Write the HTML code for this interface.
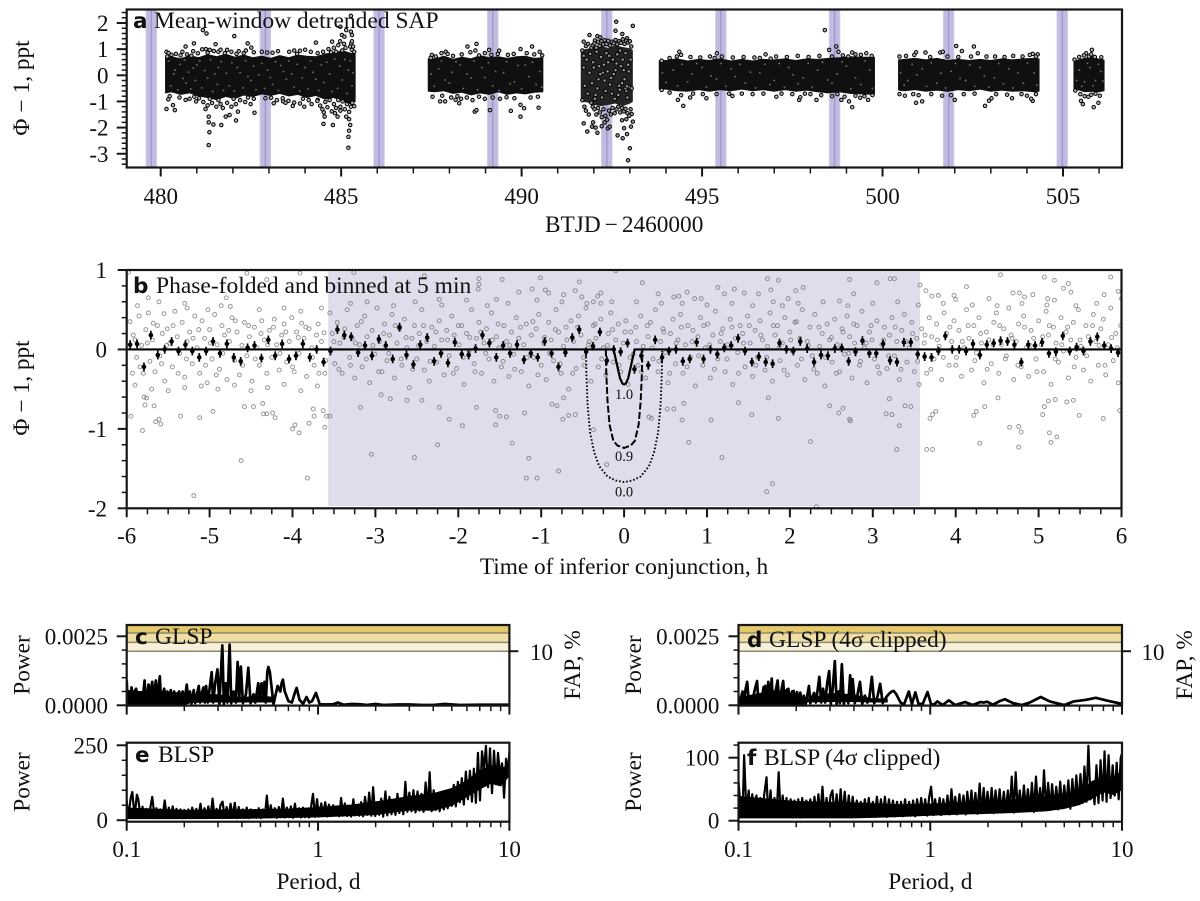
<!DOCTYPE html>
<html lang="en">
<head>
<meta charset="utf-8">
<title>Phase-folded photometry and periodograms</title>
<style>
html,body{margin:0;padding:0;background:#fff;}
svg{display:block;font-family:"Liberation Serif",serif;}
.tick-label{font-size:23px;fill:#111;}
.title{font-size:23.5px;fill:#111;}
.letter{font-family:"DejaVu Sans",sans-serif;font-weight:bold;font-size:21.5px;fill:#111;}
.axis-title{font-size:23.3px;fill:#111;}
</style>
</head>
<body>
<svg id="chart" width="1200" height="901" viewBox="0 0 1200 901">
  <defs>
    <clipPath id="clip-a"><rect x="126.7" y="9.5" width="995.3" height="158"/></clipPath>
    <clipPath id="clip-b"><rect x="126.7" y="270" width="994.8" height="238.3"/></clipPath>
    <clipPath id="clip-c"><rect x="126.7" y="625" width="382.7" height="80.6"/></clipPath>
    <clipPath id="clip-d"><rect x="738.5" y="625" width="383.5" height="80.6"/></clipPath>
    <clipPath id="clip-e"><rect x="126.7" y="742.7" width="382.7" height="79"/></clipPath>
    <clipPath id="clip-f"><rect x="738.5" y="742.7" width="383.5" height="79"/></clipPath>
  </defs>
  <g id="panel-a"></g>
  <g id="panel-b"></g>
  <g id="panel-c"></g>
  <g id="panel-d"></g>
  <g id="panel-e"></g>
  <g id="panel-f"></g>

  <g>
    <text class="letter" x="133" y="28">a</text>
    <text class="title" x="154" y="28">Mean-window detrended SAP</text>
    <text class="letter" x="133" y="293">b</text>
    <text class="title" x="156" y="293">Phase-folded and binned at 5 min</text>
    <text class="letter" x="135" y="644">c</text>
    <text class="title" x="155" y="644">GLSP</text>
    <text class="letter" x="747" y="647">d</text>
    <text class="title" x="769" y="647">GLSP (4σ clipped)</text>
    <text class="letter" x="135" y="762">e</text>
    <text class="title" x="158" y="762">BLSP</text>
    <text class="letter" x="747" y="765">f</text>
    <text class="title" x="764" y="765">BLSP (4σ clipped)</text>
  </g>

  <g>
    <text class="axis-title" x="29" y="88" text-anchor="middle" transform="rotate(-90 29 88)">Φ<tspan dx="6">−</tspan><tspan dx="6">1, ppt</tspan></text>
    <text class="axis-title" x="545" y="232">BTJD<tspan dx="4">−</tspan><tspan dx="4">2460000</tspan></text>
    <text class="axis-title" x="29" y="388" text-anchor="middle" transform="rotate(-90 29 388)">Φ<tspan dx="6">−</tspan><tspan dx="6">1, ppt</tspan></text>
    <text class="axis-title" x="624" y="574" text-anchor="middle">Time of inferior conjunction, h</text>
    <text class="axis-title" x="29.5" y="665" text-anchor="middle" transform="rotate(-90 29.5 665)">Power</text>
    <text class="axis-title" x="580" y="665" text-anchor="middle" transform="rotate(-90 580 665)">FAP, %</text>
    <text class="axis-title" x="641" y="665" text-anchor="middle" transform="rotate(-90 641 665)">Power</text>
    <text class="axis-title" x="1192" y="665" text-anchor="middle" transform="rotate(-90 1192 665)">FAP, %</text>
    <text class="axis-title" x="29.5" y="782" text-anchor="middle" transform="rotate(-90 29.5 782)">Power</text>
    <text class="axis-title" x="641" y="782" text-anchor="middle" transform="rotate(-90 641 782)">Power</text>
    <text class="axis-title" x="318.5" y="889" text-anchor="middle">Period, d</text>
    <text class="axis-title" x="930.3" y="889" text-anchor="middle">Period, d</text>
  </g>
</svg>

<script>
/* ---------- Panel a data: transit epochs (BTJD-2460000) ---------- */
const transitEpochs = [479.74,482.90,486.05,489.20,492.36,495.52,498.67,501.83,504.98];
const transitWidthDays = 0.32;
const lightCurveXTicks = [480,485,490,495,500,505];
const lightCurveYTicks = [-3,-2,-1,0,1,2];

/* dense core of each observing segment, flat triples: time, upper, lower */
const coreSeg1 = [480.14,.66,-.66, 480.3,.7,-.62, 480.55,.62,-.72, 480.8,.74,-.66, 481.05,.66,-.78, 481.3,.78,-.84, 481.55,.7,-.92, 481.8,.8,-.8, 482.05,.68,-.88, 482.3,.76,-.74, 482.55,.66,-.8, 482.8,.72,-.7, 483.05,.64,-.76, 483.3,.74,-.68, 483.55,.66,-.78, 483.8,.76,-.72, 484.05,.72,-.84, 484.3,.7,-.76, 484.55,.8,-.9, 484.8,.86,-.84, 485.05,.92,-.98, 485.25,.84,-1.08, 485.38,.8,-1];
const coreSeg2 = [487.42,.62,-.6, 487.6,.62,-.62, 487.85,.72,-.58, 488.1,.6,-.68, 488.35,.68,-.64, 488.6,.62,-.74, 488.85,.74,-.66, 489.1,.66,-.72, 489.35,.7,-.62, 489.6,.64,-.72, 489.85,.7,-.66, 490.1,.72,-.7, 490.35,.64,-.64, 490.58,.66,-.62];
const coreSeg3 = [491.66,.95,-1, 491.8,.98,-1, 492,1.05,-1.1, 492.2,1.1,-1.15, 492.4,1,-1.1, 492.6,1.12,-1.05, 492.8,1.05,-1.15, 493,1,-1.05, 493.06,.95,-1];
const coreSeg4 = [493.82,.55,-.52, 494,.56,-.52, 494.3,.62,-.58, 494.6,.54,-.6, 494.9,.6,-.54, 495.2,.56,-.6, 495.5,.62,-.54, 495.8,.54,-.58, 496.1,.6,-.52, 496.4,.54,-.58, 496.7,.6,-.54, 497,.58,-.6, 497.3,.62,-.54, 497.6,.56,-.6, 497.9,.62,-.56, 498.2,.6,-.62, 498.5,.64,-.66, 498.8,.66,-.62, 499.1,.7,-.68, 499.4,.68,-.7, 499.77,.68,-.72];
const coreSeg5 = [500.45,.58,-.56, 500.6,.6,-.58, 500.9,.64,-.54, 501.2,.58,-.6, 501.5,.64,-.56, 501.8,.56,-.6, 502.1,.6,-.54, 502.4,.56,-.58, 502.7,.6,-.52, 503,.56,-.6, 503.3,.62,-.56, 503.6,.58,-.6, 503.9,.62,-.58, 504.2,.64,-.62, 504.33,.62,-.6];
const coreSeg6 = [505.31,.55,-.55, 505.45,.58,-.55, 505.6,.64,-.62, 505.8,.7,-.6, 506,.6,-.62, 506.13,.58,-.58];

/* individual photometric points, flat pairs: time, relative flux (ppt) */
const seg1Points = [
480.16,-1.29,480.21,-.92,480.34,-1.14,480.39,-1.33,480.69,-.94,480.98,-1,481.24,-1.29,481.33,-1.58,481.33,-1.8,481.46,-1.88,481.35,-2.18,481.33,-2.67,481.68,-1.9,481.8,-1.58,481.91,-1.52,482.09,-1.73,482.14,-1.39,482.6,-1.43,482.49,-1.1,483.13,-1.07,483.39,-1,483.66,-1.17,483.98,-1.2,484.35,-.94,484.51,-1.86,484.54,-1.58,484.52,-1.42,484.77,-1.9,484.9,-1.58,484.83,-1.45,484.98,-1.2,485.14,-1.58,485.22,-1.68,485.25,-1.9,485.22,-2.12,485.2,-2.35,485.2,-2.77,
480.16,.9,480.69,1.1,480.92,1.22,481.17,1.73,481.27,1.6,481.52,1.19,482.04,1.5,482.41,1.22,482.51,1.06,484.3,1.25,484.75,1.29,484.98,1.86,485.02,1.54,485.14,1.73,485.27,2.27,485.27,1.67,485.3,1.54,485.09,1.48,485.28,1.22,485.3,.97,
480.18,.72,480.22,.85,480.3,.78,480.42,.82,480.55,.76,480.6,.9,480.73,.8,480.85,.75,480.9,.92,481.03,.84,481.15,.99,481.25,1,481.3,.86,481.36,.97,481.47,.93,481.6,.9,481.66,.98,481.78,.85,481.84,.97,481.96,.9,482.1,.82,482.16,.92,482.3,.85,482.36,.95,482.58,.88,482.8,.9,482.95,.87,483.1,.86,483.25,.92,483.56,.9,483.7,.95,483.78,.82,483.86,.94,484,.98,484.16,.9,484.35,.85,484.5,.9,484.65,1,484.72,.88,484.8,1.05,484.86,.9,484.92,1.15,484.97,1.3,485.03,.95,485.08,1.2,485.12,1.05,485.25,1.1,485.3,1.3,485.33,1.1,485.36,.9,
480.25,-.8,480.52,-.85,480.8,-.9,480.93,-.82,481.06,-.88,481.18,-1.02,481.3,-1.15,481.36,-.9,481.42,-1.06,481.54,-1.2,481.6,-.95,481.66,-1.1,481.72,-1.25,481.84,-1.05,481.96,-1.2,482.02,-.9,482.08,-1.1,482.2,-.95,482.34,-1.02,482.42,-.85,482.58,-.9,482.9,-.88,483.06,-.86,483.22,-.95,483.38,-.88,483.46,-1.05,483.54,-.98,483.7,-1.04,483.86,-1.08,483.94,-.9,484.1,-.95,484.18,-1.1,484.34,-.98,484.42,-1.16,484.48,-1.3,484.56,-1.02,484.62,-1.22,484.68,-.95,484.74,-1.38,484.8,-1.1,484.86,-1.25,484.92,-.95,484.98,-1.35,485.04,-1,485.1,-1.3,485.16,-1.1,485.22,-1.4,485.27,-1.2,485.31,-1.05,485.36,-1.18];
const seg2Points = [
487.51,.78,487.9,.9,488.5,1.1,488.75,1.2,489.1,.97,489.38,.94,489.97,1,490.29,1.1,490.5,.9,487.53,-.82,487.74,-1,487.88,-1,488.17,-.94,488.27,-1.07,488.7,-1.39,488.75,-1.33,489.12,-1.33,489.7,-1.36,489.97,-1.58,490.07,-1.26,489.97,-1.13,490.47,-1.24,
487.48,.66,487.62,.72,487.78,.85,487.95,.82,488.1,.74,488.34,.8,488.58,.88,488.72,.95,488.82,.76,488.98,.85,489.16,.78,489.34,.82,489.62,.78,489.78,.82,490.14,.85,490.35,.8,490.57,.76,
487.8,-.78,488.05,-.85,488.22,-.8,488.32,-.9,488.48,-.85,488.64,-.95,488.82,-.82,488.98,-.9,489.2,-.85,489.4,-.9,489.58,-.84,489.8,-.88,490.25,-.85,490.45,-.82];
const seg3Points = [
491.72,-1.84,491.82,-2.15,491.95,-1.96,491.72,1.29,491.88,1.54,492.03,1.33,
491.98,-1.8,492.05,-2,492.1,-2.2,492.22,-1.95,492.3,-1.8,492.1,1.5,492.18,1.45,492.62,2.05,493.08,1.89,492.6,1.7,492.79,1.58,492.92,1.42,492.66,-2.3,492.8,-2.41,492.92,-2.25,493,-2.79,492.95,-3.25,493.08,-1.77,492.84,-2.02,493.03,-1.96,492.39,-2.03,492.44,-1.96,492.78,-1.72,492.9,-1.68,493.05,-1.48,
491.68,.95,491.72,.75,491.78,1.12,491.84,1.2,491.93,1.05,491.97,1.15,492.02,1.22,492.07,1.05,492.12,1.28,492.16,1.12,492.21,1.3,492.26,1.18,492.3,1.34,492.35,1.2,492.4,1.32,492.45,1.14,492.5,1.28,492.55,1.22,492.6,1.35,492.65,1.18,492.7,1.3,492.75,1.24,492.8,1.38,492.85,1.2,492.9,1.32,492.95,1.25,493,1.3,493.04,1.1,
491.68,-.95,491.74,-1.2,491.78,-1.35,491.86,-1.5,491.93,-1.05,491.97,-1.2,492.02,-1.3,492.07,-1.5,492.12,-1.25,492.17,-1.42,492.22,-1.6,492.27,-1.3,492.32,-1.55,492.37,-1.7,492.42,-1.35,492.47,-1.5,492.52,-1.25,492.58,-1.45,492.63,-1.3,492.68,-1.2,492.73,-1.42,492.78,-1.25,492.83,-1.38,492.88,-1.28,492.93,-1.45,492.98,-1.55,493.02,-1.3,
492,.3,492.1,-.5,492.2,.7,492.3,-.2,492.4,.5,492.5,-.7,492.6,.2,492.7,-.4,492.8,.6,492.9,-.6,492.95,.4,492.05,-.75,492.25,.1,492.45,-.35,492.65,.8,492.85,-.15,492.98,-.45,492.72,-.55,492.88,-.5,492.92,-.42,492.15,.35,492.35,.85,492.55,.05,492.75,.35,
491.72,.3,491.75,-.4,491.8,.6,491.83,-.7,491.88,.1,491.9,.82,491.95,-.3,491.98,.5,492.03,-.9,492.08,.9,492.13,-.15,492.18,.05,492.23,-.85,492.28,.4,492.33,-.6,492.38,.15,492.43,.75,492.48,-.1,492.53,.6,492.58,-.9,492.63,.45,492.68,-.75,492.73,.95,492.78,-.3,492.83,.2,492.88,.85,492.93,-.85,492.97,.15,493.02,.6,493.05,-.5];
const seg4Points = [
498.4,1.73,498.52,.97,498.72,1.1,498.78,.9,494.37,.9,495.41,.84,496.76,.8,499.16,.87,494.48,-1.17,494.33,-.94,494.67,-.85,495.12,-.88,495.84,-.79,497.06,-.82,497.69,-.94,497.72,-.84,498.17,-.94,498.86,-.94,499.07,-1,499.16,-1.22,499.6,-.94,
493.88,.56,494.1,.66,494.3,.72,494.42,.78,494.68,.7,494.95,.68,495.22,.72,495.35,.66,495.55,.72,495.85,.68,496.15,.7,496.45,.68,496.6,.66,496.9,.64,497.05,.72,497.35,.7,497.65,.74,497.95,.7,498.25,.74,498.6,.72,498.9,.76,499.05,.72,499.25,.8,499.4,.78,499.55,.84,499.7,.74,
493.88,-.56,494.1,-.66,494.42,-.76,494.75,-.7,495.02,-.72,495.4,-.72,495.75,-.7,496.1,-.7,496.4,-.72,496.7,-.7,497.2,-.7,497.5,-.72,497.85,-.7,498,-.72,498.3,-.76,498.6,-.8,498.75,-.72,498.95,-.82,499.25,-.78,499.38,-.86,499.5,-.8,499.72,-.76];
const seg5Points = [
502.04,1.12,502.53,1.1,502.2,.93,502.64,.84,501.6,.87,501.67,.9,501.19,.87,500.93,.88,504.16,.82,504.3,.8,500.93,-1.05,501.1,-1,502,-.94,502.84,-1.17,502.95,-.97,503.02,-.88,503.59,-.88,504.16,-.98,504.12,-.9,
500.47,.72,500.65,.74,500.88,.78,501.32,.7,501.8,.72,502.1,.7,502.45,.72,502.88,.72,503.12,.72,503.38,.7,503.62,.74,503.88,.72,504.08,.78,504.25,.72,
500.47,-.72,500.62,-.78,500.85,-.72,501,-.76,501.35,-.72,501.65,-.78,501.9,-.76,502.25,-.72,502.55,-.7,503.15,-.72,503.45,-.74,503.85,-.72,504,-.78,504.25,-.72];
const seg6Points = [
505.8,.97,505.64,.84,506.06,.69,505.32,.6,505.85,-1.22,505.55,-1.1,505.98,-1.05,505.5,-.98,505.7,-.82,
505.45,.7,505.58,.76,505.72,.72,505.78,.8,505.88,.7,505.34,-.58,505.48,-.72,505.6,-.8,505.78,-.74,505.9,-.7,506.02,-.78];
/* lighter interior specks seen through the dense marker clouds */
const coreSpecks = [
480.4,.2,480.7,-.3,481,.4,481.3,-.1,481.6,.3,481.9,-.4,482.2,.1,482.5,-.2,482.8,.45,483.1,-.35,483.4,.15,483.7,-.45,484,.3,484.3,-.15,484.6,.5,484.9,-.5,485.2,.2,485.3,-.4,
480.22,.55,480.28,-.4,480.36,.05,480.47,-.55,480.53,.42,480.62,-.12,480.66,.58,480.77,.12,480.83,-.52,480.9,.28,480.96,-.2,481.08,.55,481.14,-.48,481.22,.18,481.38,.6,481.44,-.62,481.5,.05,481.57,-.35,481.68,.52,481.74,-.58,481.82,.08,481.97,.48,482.04,-.6,482.12,.3,482.28,-.48,482.35,.56,482.42,-.05,482.57,.35,482.64,-.55,482.72,.02,482.88,-.5,482.96,.2,483.04,-.08,483.18,.52,483.26,-.58,483.33,.38,483.48,-.15,483.55,.55,483.63,.05,483.78,.42,483.85,-.6,483.92,-.1,484.08,-.52,484.15,.55,484.22,.12,484.38,-.58,484.45,.4,484.52,-.28,484.68,.05,484.75,-.62,484.82,.62,484.96,.35,485.03,-.18,485.1,.6,485.16,-.7,485.25,.55,485.33,.1,
487.5,.05,487.58,-.42,487.7,.25,487.78,.55,487.88,-.18,488,-.3,488.08,.12,488.18,.52,488.3,.4,488.38,-.5,488.48,.05,488.6,-.1,488.68,.55,488.78,-.55,488.9,.3,488.98,-.08,489.08,.48,489.2,-.4,489.28,.15,489.38,-.58,489.5,.1,489.58,.52,489.68,-.32,489.8,-.25,489.9,.38,490,-.52,490.1,.4,490.2,-.05,490.3,.5,490.4,-.35,490.5,.15,490.56,-.45,
493.9,.1,494,-.28,494.2,.2,494.32,-.4,494.45,.42,494.6,-.25,494.72,.05,494.85,.45,495,.3,495.12,-.45,495.25,-.02,495.4,-.15,495.52,.45,495.66,-.42,495.8,.25,495.92,-.05,496.05,.42,496.2,-.3,496.34,.12,496.48,-.48,496.6,.1,496.74,.42,496.88,-.35,497,-.2,497.14,.45,497.28,-.46,497.4,.3,497.52,.02,497.66,-.32,497.8,-.1,497.94,.46,498.05,-.46,498.2,.2,498.34,.5,498.48,-.18,498.6,-.3,498.74,.05,498.88,.52,499,.35,499.12,-.52,499.25,-.1,499.4,-.35,499.52,.55,499.65,.2,499.72,-.5,
500.5,.1,500.6,-.38,500.7,-.2,500.82,.42,500.95,.02,501.1,.25,501.22,-.42,501.35,.48,501.5,-.3,501.62,.08,501.75,-.48,501.9,.15,502.02,.45,502.15,-.12,502.3,-.2,502.42,.4,502.56,-.42,502.7,.3,502.82,-.02,502.95,-.45,503.1,-.1,503.22,.45,503.35,-.32,503.5,.25,503.62,-.48,503.75,.1,503.9,-.3,504.02,.46,504.2,.1,504.28,-.38,
505.38,-.2,505.45,.2,505.52,-.42,505.6,-.25,505.68,.46,505.75,.3,505.83,-.4,505.9,-.2,505.98,.42,506.05,.15,506.1,-.22];

/* ---------- Panel b data ---------- */
const foldXTicks = [-6,-5,-4,-3,-2,-1,0,1,2,3,4,5,6];
const foldYTicks = [-2,-1,0,1];
const transitWindowHours = [-3.57,3.57];
/* 5-minute binned relative flux, ppt, 144 consecutive bins from -6 h */
const binnedFlux = [
.06,.07,-.22,.18,-.07,0,.10,-.02,.06,-.02,-.10,-.02,.10,-.05,.07,-.10,-.15,.02,.05,-.11,.12,-.08,.07,-.12,-.08,.07,-.10,0,-.16,-.02,
.25,.18,.16,-.04,.05,-.08,.13,.05,-.12,.28,-.07,-.19,.06,.15,-.15,-.05,-.17,.09,-.06,-.07,.01,.18,.08,-.10,.05,-.05,.06,-.13,-.05,-.10,
.10,-.05,-.22,-.04,.15,.25,-.03,.04,.22,-.14,0,-.03,.08,-.25,-.08,-.20,.12,-.10,-.02,0,-.15,-.12,.09,-.12,0,-.06,.02,.05,.14,-.02,
-.16,-.09,-.16,-.18,.08,0,-.02,.10,.01,-.16,-.07,-.08,.01,.02,-.15,-.03,.11,-.05,-.05,.07,-.14,-.16,.09,.09,-.06,-.09,-.10,-.02,.17,0,
0,-.02,.07,-.07,.06,.08,.11,.10,.06,-.16,.06,.05,.09,-.05,-.03,.17,-.02,.03,-.02,.10,.16,.05,.01,-.04];
const binErrorPpt = 0.055;
const binStartHours = -6;
const binWidthHours = 5/60;
/* transit models: impact parameter curves */
const modelSolidT = [-6,-.127,-.11,-.08,-.05,-.02,0,.02,.05,.08,.11,.127,6];
const modelSolidV = [0,0,-.08,-.22,-.36,-.43,-.44,-.43,-.36,-.22,-.08,0,0];
const modelDashedT = [-.22,-.215,-.2,-.175,-.13,-.08,0,.08,.13,.175,.2,.215,.22];
const modelDashedV = [0,-.3,-.65,-.95,-1.15,-1.21,-1.24,-1.21,-1.15,-.95,-.65,-.3,0];
const modelDottedT = [-.46,-.455,-.44,-.41,-.36,-.3,-.2,-.1,0,.1,.2,.3,.36,.41,.44,.455,.46];
const modelDottedV = [0,-.3,-.7,-1.05,-1.3,-1.47,-1.6,-1.65,-1.67,-1.65,-1.6,-1.47,-1.3,-1.05,-.7,-.3,0];
const modelLabels = ["1.0","0.9","0.0"];
const modelLabelValues = [-.56,-1.34,-1.79];
/* phase-folded points, flat pairs: hours, relative flux */
const foldPoints = [
-5.95,-.84,-5.81,-1.02,-5.79,-.6,-5.76,-.61,-5.78,-.7,-5.67,-.71,-5.65,-.91,-5.61,-.88,-5.59,-.94,-5.35,-.84,-5.12,-.86,-4.96,-.78,-5.19,-1.84,-4.62,-1.4,-4.58,-.72,-4.47,-.72,-4.36,-.68,-4.35,-.81,-4.31,-.81,-4.24,-.8,-4.21,-.86,-4,-1,-3.97,-.95,-3.92,-1.05,-3.8,-.93,-3.82,-1.62,-3.75,-.75,-3.74,-.84,-3.63,-.77,-3.61,-.98,-3.59,-.84,-3.55,-.84,-3.18,-.73,-3.05,-1.32,-2.82,-.62,-2.93,-.57,
-4.55,.96,-3.91,.96,-3.26,.97,-4.31,.88,-4.86,.55,-5.61,.6,-5.74,.65,-4.8,.65,-5.98,.97,-5.3,.58,
-2.25,-1.2,-2.53,-1.36,-1.95,-.96,-2.11,-.88,-1.35,-1.18,-1.15,-1.37,-1.18,-1.62,-1.05,-1.62,-.79,-1.53,-.37,-1.01,-.21,-1.45,.78,-1.17,1.18,-1.36,1.79,-1.69,1.72,-1.79,1.86,-.87,1.05,-.89,.7,-.89,.52,-.75,.6,-.75,.72,-.68,1.54,-.82,1.38,-.67,1.74,-.61,-1.55,-.95,-1.2,-.8,-1.42,-.85,-1.5,-.84,-1.55,-.77,-1.78,-.73,-2.23,-.73,-2.44,-.64,-2.62,-.64,-.67,-.83,-.59,-.82,-.74,-.88,-.81,-.71,-.87,-.69,-.73,-.61,.3,-.85,.33,-.87,
-2.41,.93,-1.01,.9,-1.47,.88,-.54,.85,-.1,.99,.22,.84,.41,.7,.76,.72,1.13,.78,1.33,.76,1.73,.89,1.86,.87,1.77,.75,-1.75,.89,-1.75,.82,-1.76,.76,-1.27,.72,-1.11,.76,-.95,.75,-.91,.71,-.73,.69,-.59,.74,-.51,.66,-.28,.71,-.32,.67,-.37,.6,-.28,.58,.66,.67,.6,.66,.85,.64,.93,.64,1.21,.7,1.45,.71,1.62,.7,1.91,.55,-2.23,.63,-1.54,.63,
2.25,-1.16,3.29,-1.26,3.32,-.96,3.65,-1.26,3.72,-1.26,4.29,-1.18,4.76,-1.23,4.65,-.98,4.76,-.97,4.79,-1.04,5.13,-1.05,5.15,-1.17,5.22,-1.1,5.49,-.83,5.78,-.87,5.98,-.77,5.05,-.82,5.07,-.72,5.12,-.65,5.2,-.63,5.34,-.66,5.42,-.64,2.48,-.71,2.59,-.8,2.64,-.74,2.72,-.88,2.73,-.9,3.16,-.81,3.23,-.82,3.2,-.62,3.39,-.71,3.46,-.72,3.69,-.87,3.72,-.82,3.76,-.78,4.22,-.83,4.25,-.78,4.35,-.72,4.51,-.61,2.32,-1.98,
4.54,.94,5.07,.91,5.19,.87,5.3,.77,5.36,.83,5.87,.91,2.72,.88,3.05,.84,3.21,.89,3.26,.89,3.57,.81,3.64,.74,4.13,.79,2.07,.74,2.16,.78,2.77,.7,2.6,.61,1.98,.64,3.71,.67,3.79,.68,3.98,.68,4,.63,4.4,.64,4.69,.71,4.77,.71,4.83,.66,4.93,.69,5.11,.64,5.19,.62,5.39,.72,5.79,.69,5.96,.73,6,.64,
-5.96,.35,-5.92,.18,-5.88,-.1,-5.85,.42,-5.82,.05,-5.8,-.3,-5.77,.25,-5.74,.46,-5.72,-.15,-5.69,.12,-5.66,-.28,-5.63,.3,-5.6,-.08,-5.57,.2,-5.54,-.4,-5.51,.26,-5.48,.08,-5.45,-.22,-5.42,.48,-5.39,.16,-5.36,-.05,-5.33,.34,-5.3,-.35,-5.27,.1,-5.24,.22,-5.21,-.18,-5.18,.42,-5.15,.02,-5.12,-.3,-5.09,.36,-5.06,.14,-5.03,-.42,-5,.25,-4.97,-.12,-4.94,.44,-4.91,.06,-4.88,-.25,-4.85,.3,-4.82,.18,-4.79,-.38,-4.76,.1,-4.73,.4,-4.7,-.14,-4.67,.22,-4.64,-.32,-4.61,.05,-4.58,.34,-4.55,-.08,-4.52,.16,-4.49,-.4,-4.46,.28,-4.43,.02,-4.4,-.2,-4.37,.36,-4.34,.12,-4.31,-.3,-4.28,.24,-4.25,-.1,-4.22,.38,-4.19,.06,-4.16,-.26,-4.13,.18,-4.1,.32,-4.07,-.16,-4.04,.1,-4.01,.4,-3.98,-.28,-3.95,.22,-3.92,-.05,-3.89,.33,-3.86,.14,-3.83,-.34,-3.8,.26,-3.77,.02,-3.74,-.2,-3.71,.18,-3.68,-.3,-3.65,.1,-3.62,.21,-3.6,-.14,
-5.9,-.45,-5.7,-.5,-5.5,-.52,-5.3,-.48,-5.1,-.46,-4.9,-.5,-4.7,-.45,-4.5,-.52,-4.3,-.48,-4.1,-.44,-3.9,-.52,-3.7,-.46,
-3.55,.46,-3.52,.2,-3.49,-.18,-3.46,.34,-3.43,.08,-3.4,-.3,-3.37,.26,-3.34,.5,-3.31,-.1,-3.28,.14,-3.25,-.36,-3.22,.3,-3.19,.06,-3.16,-.22,-3.13,.42,-3.1,.16,-3.07,-.42,-3.04,.24,-3.01,-.06,-2.98,.52,-2.95,.1,-2.92,-.28,-2.89,.32,-2.86,-.14,-2.83,.18,-2.8,.44,-2.77,-.36,-2.74,.08,-2.71,.26,-2.68,-.2,-2.65,.38,-2.62,.02,-2.59,-.48,-2.56,.14,-2.53,.3,-2.5,-.12,-2.47,.2,-2.44,.5,-2.41,-.26,-2.38,.1,-2.35,-.4,-2.32,.28,-2.29,.04,-2.26,-.16,-2.23,.36,-2.2,.12,-2.17,-.32,-2.14,.24,-2.11,-.08,-2.08,.42,-2.05,.18,-2.02,-.24,-1.99,.06,-1.96,.3,-1.93,-.44,-1.9,.2,-1.87,-.02,-1.84,.5,-1.81,-.18,-1.78,.14,-1.75,.34,-1.72,-.3,-1.69,.08,-1.66,.26,-1.63,-.12,-1.6,.46,-1.57,-.4,-1.54,.16,-1.51,.02,-1.48,-.22,-1.45,.3,-1.42,.1,-1.39,-.34,-1.36,.22,-1.33,-.06,-1.3,.4,-1.27,.14,-1.24,-.28,-1.21,.06,-1.18,.32,-1.15,-.46,-1.12,.18,-1.09,-.1,-1.06,.26,-1.03,.44,-1,-.2,-.97,.08,-.94,-.38,-.91,.34,-.88,.12,-.85,-.14,-.82,.5,-.79,.22,-.76,-.3,-.73,.04,-.7,.28,-.67,-.5,-.64,.36,-.61,.1,-.58,-.24,-.55,.42,-.52,.18,-.49,-.1,-.46,.52,-.43,.06,-.4,-.4,-.37,.3,-.34,.14,-.31,-.22,-.28,.38,-.25,.02,-.22,-.32,-.19,.2,-.16,.46,-.13,-.16,-.1,.12,-.07,.32,-.04,-.28,-.01,.08,.02,.36,.05,-.44,.08,.22,.11,-.06,.14,.28,.17,-.2,.2,.42,.23,.04,.26,-.36,.29,.16,.32,.34,.35,-.12,.38,.5,.41,-.28,.44,.1,.47,.26,.5,-.04,.53,-.42,.56,.2,.59,.38,.62,-.18,.65,.12,.68,.44,.71,-.3,.74,.06,.77,.3,.8,-.1,.83,.24,.86,-.46,.89,.16,.92,.4,.95,-.2,.98,.02,
1.01,.32,1.04,-.36,1.07,.18,1.1,.48,1.13,-.12,1.16,.1,1.19,.26,1.22,-.28,1.25,.06,1.28,.38,1.31,-.44,1.34,.14,1.37,-.04,1.4,.3,1.43,.2,1.46,-.22,1.49,.42,1.52,.08,1.55,-.34,1.58,.24,1.61,-.1,1.64,.36,1.67,.12,1.7,-.26,1.73,.04,1.76,.46,1.79,-.4,1.82,.18,1.85,.3,1.88,-.14,1.91,.08,1.94,.4,1.97,-.32,2,.22,2.03,-.02,2.06,.34,2.09,-.2,2.12,.14,2.15,.5,2.18,-.38,2.21,.1,2.24,.28,2.27,-.08,2.3,.44,2.33,-.3,2.36,.04,2.39,.2,2.42,-.46,2.45,.32,2.48,.12,2.51,-.16,2.54,.38,2.57,.06,2.6,-.28,2.63,.26,2.66,-.06,2.69,.42,2.72,.16,2.75,-.36,2.78,.08,2.81,.3,2.84,-.2,2.87,.48,2.9,.02,2.93,-.42,2.96,.22,2.99,.12,3.02,-.12,3.05,.36,3.08,-.3,3.11,.06,3.14,.28,3.17,-.24,3.2,.18,3.23,.4,3.26,-.08,3.29,.1,3.32,-.38,3.35,.24,3.38,.44,3.41,-.16,3.44,.02,3.47,.34,3.5,-.28,3.53,.14,3.56,-.44,
3.59,.26,3.62,.08,3.65,-.3,3.68,.4,3.71,.16,3.74,-.12,3.77,.32,3.8,.04,3.83,-.38,3.86,.46,3.89,.2,3.92,-.2,3.95,.1,3.98,.36,4.01,-.1,4.04,.24,4.07,-.34,4.1,.02,4.13,.5,4.16,.14,4.19,-.26,4.22,.3,4.25,-.04,4.28,.4,4.31,.08,4.34,-.42,4.37,.22,4.4,.12,4.43,-.18,4.46,.34,4.49,.46,4.52,-.3,4.55,.06,4.58,.26,4.61,-.08,4.64,.52,4.67,.18,4.7,-.38,4.73,.1,4.76,.32,4.79,-.22,4.82,.42,4.85,.02,4.88,-.34,4.91,.24,4.94,.14,4.97,-.12,5,.36,5.03,.06,5.06,-.28,5.09,.48,5.12,.18,5.15,-.44,5.18,.28,5.21,.08,5.24,-.16,5.27,.4,5.3,-.02,5.33,.22,5.36,-.36,5.39,.12,5.42,.34,5.45,-.1,5.48,.5,5.51,.04,5.54,-.26,5.57,.3,5.6,.16,5.63,-.4,5.66,.44,5.69,.1,5.72,-.2,5.75,.26,5.78,.38,5.81,-.32,5.84,.06,5.87,.52,5.9,-.14,5.93,.2,5.96,-.42,5.99,.3,
-5.93,-.3,-5.87,.55,-5.55,.45,-5.27,.52,-5.02,.5,-4.75,.54,-4.4,.5,-4.1,.52,-3.9,.48,-3.65,.52,-3.3,.58,-3.1,.6,-2.78,.55,-2.52,.6,-2.2,.56,-1.9,.62,-1.65,.55,-1.4,.58,-1.05,.62,-.75,.6,-.45,.58,-.15,.6,.15,.6,.45,.58,.7,.58,1,.56,1.3,.58,1.55,.55,1.8,.6,2.1,.58,2.4,.6,2.7,.55,3,.58,3.3,.6,3.55,.56,3.85,.58,4.2,.56,4.5,.55,4.8,.58,5.1,.56,5.45,.55,5.7,.58];
const foldPointsExtra = [
-5.9,.12,-5.84,-.22,-5.75,.08,-5.68,.33,-5.58,-.18,-5.52,.05,-5.44,.3,-5.38,-.3,-5.28,-.12,-5.2,.14,-5.13,.25,-5.05,-.2,-4.99,.08,-4.92,-.32,-4.84,-.05,-4.77,.24,-4.69,.36,-4.6,-.2,-4.53,.3,-4.45,-.12,-4.38,.2,-4.3,.06,-4.23,.28,-4.15,-.05,-4.08,.22,-4,-.22,-3.93,.15,-3.84,.28,-3.76,-.1,-3.69,.32,-3.61,-.3,
-3.5,.1,-3.44,-.25,-3.38,.15,-3.3,-.2,-3.24,.08,-3.17,.35,-3.11,-.12,-3.03,.05,-2.96,-.28,-2.9,.2,-2.84,-.05,-2.76,.3,-2.69,-.12,-2.63,.15,-2.55,-.25,-2.48,.05,-2.42,.3,-2.34,-.15,-2.27,.22,-2.21,-.05,-2.13,.12,-2.06,-.3,-2,.3,-1.94,-.1,-1.86,.15,-1.8,-.28,-1.73,.22,-1.67,-.05,-1.59,.12,-1.52,.32,-1.46,-.15,-1.38,.05,-1.32,-.25,-1.25,.28,-1.17,-.1,-1.1,.35,-1.04,-.32,-.96,.15,-.9,-.05,-.83,.25,-.77,-.18,-.69,.12,-.62,-.3,-.56,.28,-.48,-.2,-.42,.1,-.35,.32,-.27,-.12,-.2,.05,-.14,.25,-.06,-.2,.01,.22,.07,-.1,.15,.1,.21,-.28,.28,.3,.34,.02,.42,-.15,.48,.22,.55,-.3,.63,.08,.69,.28,.76,-.22,.82,.1,.9,-.08,.96,.3,1.03,.06,1.09,-.25,1.17,.2,1.24,-.12,1.3,.28,1.38,-.3,1.44,.08,1.51,.3,1.59,-.2,1.65,.18,1.72,-.1,1.8,.3,1.87,.02,1.93,-.26,2.01,.12,2.08,.35,2.14,-.12,2.22,.05,2.29,-.25,2.35,.28,2.43,-.1,2.5,.15,2.56,-.3,2.64,.22,2.71,-.05,2.77,.32,2.85,-.15,2.92,.08,2.98,.3,3.06,-.22,3.13,.12,3.19,-.08,3.27,.28,3.34,-.25,3.4,.1,3.48,.2,3.54,-.15,
3.63,.18,3.7,-.25,3.78,.12,3.85,-.1,3.93,.28,4,-.2,4.08,.1,4.15,.3,4.23,-.14,4.3,.2,4.38,-.25,4.45,.06,4.53,.3,4.6,-.12,4.68,.14,4.75,-.2,4.83,.28,4.9,.05,4.98,-.28,5.05,.16,5.13,.3,5.2,-.12,5.28,.06,5.35,.28,5.43,-.22,5.5,.12,5.58,-.08,5.65,.3,5.73,.05,5.8,-.2,5.88,.15,5.95,.02];

/* ---------- Periodogram data ---------- */
const periodTicks = [0.1,1,10];
const periodTickLabels = ["0.1","1","10"];
const periodMinorTicks = [.2,.3,.4,.5,.6,.7,.8,.9,2,3,4,5,6,7,8,9];
const glspTicks = [0,25];
const glspTickLabels = ["0.0000","0.0025"];
const glspMinorTicks = [5,10,15,20];
/* false-alarm levels in units of 1e-4 power: 10 %, 1 %, 0.1 % */
const fapLevelsC = [19.6,22.8,26.2];
const fapLevelsD = [19.6,22.8,26.2];
const fapTickLabel = "10";
/* GLSP, flat pairs: period (d), power x 1e4 */
const glspC = [
.1,9,.101,2,.103,5,.104,1,.106,6.5,.108,2,.11,5,.112,6,.114,1.5,.117,3,.119,4,.121,1.5,.124,9,.126,1,.128,3,.13,7.5,.132,2,.134,6,.136,8.5,.138,2,.14,5,.142,9,.144,2,.147,7,.149,10.5,.151,1.5,.154,4,.157,6,.16,2,.163,5,.166,1.5,.17,5.5,.173,1,.177,5,.18,1.5,.184,4,.188,5,.192,1.5,.196,5,.2,1,.206,7.5,.21,1,.214,5,.218,.6,.224,5.5,.228,.8,.233,4,.238,7,.242,1,.247,4.5,.252,6.5,.256,1,.26,7,.265,1,.27,5,.278,12,.283,1,.29,8,.298,13,.305,.5,.316,21.7,.322,.5,.33,8,.336,1,.345,22,.352,.8,.362,5,.372,1,.38,15.7,.388,3,.395,14,.405,.8,.42,4,.432,13.6,.444,.8,.46,4,.47,1,.487,8,.494,3,.507,8,.516,2,.525,8.5,.533,1,.543,12,.55,13.9,.56,12,.575,5,.585,.5,.615,7,.635,5,.645,8,.655,9.3,.67,5,.7,1.5,.73,1,.76,5,.773,6.3,.8,2,.835,.5,.87,3,.9,1,.93,1.5,.975,4.5,1.02,.4,1.1,.3,1.2,.4,1.27,1,1.36,.2,1.5,.5,1.65,.4,1.8,.1,2,.5,2.2,.1,2.6,.3,3,.3,3.5,.1,4,.1,4.6,.5,5.5,.1,7,.2,10,.2];
const glspD = [
.1,3,.102,1.5,.105,5,.107,1.5,.109,6,.111,8.5,.113,1.5,.116,3,.118,1,.121,5,.125,8.8,.127,1,.13,4,.132,1,.135,6.5,.138,7,.14,1,.143,8.5,.146,1.5,.149,9.7,.151,1,.155,4,.16,9,.163,1,.167,5,.171,8.8,.174,1,.178,5.5,.182,6,.185,.8,.19,5,.194,5.2,.198,.8,.202,4.8,.206,.8,.21,4.6,.214,.6,.219,3.5,.224,.5,.229,4,.233,7,.237,.8,.242,3,.248,4.5,.253,1,.258,5,.264,10.3,.27,1,.276,6,.283,1,.29,8,.297,12.4,.303,.5,.31,6,.318,16,.325,.5,.333,5,.338,.8,.346,14.9,.354,.6,.365,3,.374,.8,.382,10.9,.388,4,.394,9.5,.404,.8,.418,4,.43,8.5,.442,.6,.456,3.5,.47,1,.482,3,.496,10.3,.51,.8,.53,3,.548,7.8,.565,.8,.59,3,.61,4.2,.63,5,.645,5.2,.665,4,.7,1,.73,.3,.773,5,.802,.4,.836,4.7,.87,.4,.915,.6,.968,4.8,1.01,.4,1.04,.2,1.09,1.4,1.16,.1,1.25,1.8,1.35,.1,1.52,1.2,1.66,.1,1.83,1.2,1.9,1,1.98,1.3,2.12,.2,2.3,1.5,2.45,2.2,2.7,.8,3,.1,3.3,1,3.77,3,4.2,1.4,5,.1,5.6,1.4,6.5,2,7.3,2.7,8.5,1.6,10,.5];
/* unresolved dense part of the GLSP traces, flat triples: period, upper, lower (x 1e4) */
const glspCoreC = [.1,5.5,0,.13,5,0,.16,5,0,.2,4.5,0,.215,4,.8,.25,4.2,1,.3,4,1,.4,3,1,.5,3.5,1,.6,3,1];
const glspCoreD = [.1,3,0,.12,4,0,.15,5.5,0,.18,4.5,0,.215,2.5,0,.23,2.5,1,.3,4.5,1.2,.4,4,1.2,.5,2.5,1,.6,2.5,1];
/* BLS period grid shared by panels e and f */
const blsPeriods = [
.100,.102,.105,.107,.110,.113,.115,.118,.121,.124,
.127,.130,.133,.136,.140,.143,.147,.150,.154,.158,
.162,.166,.170,.174,.178,.182,.187,.191,.196,.200,
.205,.210,.215,.220,.226,.231,.237,.243,.249,.255,
.261,.267,.274,.281,.288,.295,.302,.309,.317,.325,
.333,.341,.349,.358,.367,.376,.385,.394,.404,.414,
.424,.434,.445,.456,.467,.478,.490,.502,.514,.527,
.540,.553,.566,.580,.594,.609,.624,.639,.655,.671,
.687,.704,.721,.739,.757,.776,.795,.814,.834,.854,
.875,.897,.919,.941,.964,.988,1.01,1.04,1.06,1.09,
1.12,1.14,1.17,1.20,1.23,1.26,1.29,1.32,1.35,1.38,
1.42,1.45,1.49,1.53,1.56,1.60,1.64,1.68,1.72,1.76,
1.81,1.85,1.90,1.94,1.99,2.04,2.09,2.14,2.19,2.25,
2.30,2.36,2.42,2.47,2.54,2.60,2.66,2.73,2.79,2.86,
2.93,3.00,3.08,3.15,3.23,3.31,3.39,3.47,3.56,3.65,
3.74,3.83,3.92,4.02,4.12,4.22,4.32,4.43,4.54,4.65,
4.76,4.88,5.00,5.12,5.25,5.38,5.51,5.64,5.78,5.92,
6.07,6.22,6.37,6.52,6.68,6.85,7.02,7.19,7.36,7.54,
7.73,7.92,8.11,8.31,8.51,8.72,8.94,9.16,9.38,9.61,
9.85,10.0];
const blsPowerE = [
65,10,75,94,12,85,70,12,45,8,
38,8,42,78,7,40,9,36,10,66,
9,42,8,46,10,38,8,36,7,34,
9,36,7,42,8,38,10,55,8,40,
7,46,9,72,10,38,8,50,62,9,
44,8,55,10,58,7,44,9,36,8,
42,7,36,9,34,8,40,7,36,10,
82,9,50,11,40,8,44,10,72,9,
42,10,46,8,55,12,40,9,42,10,
38,9,44,88,11,70,12,56,14,60,
12,52,14,50,16,46,13,74,15,56,
14,48,12,70,16,50,15,60,13,78,
18,92,15,110,14,60,18,72,12,96,
16,78,20,62,18,88,24,70,20,128,
28,92,30,100,26,96,32,88,28,126,
36,160,30,100,34,78,30,90,36,80,
40,100,48,118,46,128,60,140,52,162,
70,165,62,172,58,225,66,230,170,248,
110,240,90,232,120,225,150,190,75,205,
160,228];
const blsPowerF = [
62,30,8,104,10,48,6,42,9,40,
7,36,6,40,69,8,48,6,36,8,
77,6,40,7,36,8,34,5,32,6,
34,5,36,6,32,7,34,6,38,6,
42,7,54,6,36,8,40,48,7,42,
9,50,7,46,8,40,6,38,7,32,
7,30,6,34,8,36,7,30,6,38,
8,34,7,38,6,34,8,32,7,30,
8,30,7,34,9,30,8,32,7,34,
9,36,10,34,8,38,54,9,34,10,
36,9,34,11,40,10,50,12,38,10,
42,12,40,10,46,13,48,12,44,11,
59,12,52,14,46,13,52,12,48,14,
50,13,46,15,48,14,70,13,77,15,
48,16,56,18,50,16,60,14,70,17,
52,16,80,18,60,17,58,19,54,18,
62,20,56,22,64,19,66,24,72,26,
74,28,86,30,119,34,60,26,88,28,
96,32,110,30,104,36,88,40,92,34,
100,107];
/* unresolved dense part of the BLS traces, flat triples: period, upper, lower */
const blsCoreE = [.1,40,6,.2,32,6,.4,34,7,.7,36,10,1,42,12,1.5,50,16,2,60,20,3,78,35,4,88,34,5,105,50,6,130,80,7,165,105,8,180,125,9,170,115,10,185,150];
const blsCoreF = [.1,38,5,.2,30,5,.4,28,5,.7,25,7,1,26,9,1.5,28,11,2,30,12,3,34,14,4,38,16,5,42,20,6,46,26,7,62,36,8,70,46,9,68,42,10,78,50];
const blsTicksE = [0,250];
const blsMinorE = [50,100,150,200];
const blsTicksF = [0,100];
const blsMinorF = [20,40,60,80,120];

/* ---------- Drawing ---------- */
const root = document.getElementById('chart');
const NS = root.namespaceURI;
const INK = '#161616';

function mk(parent, tag, attrs, text){
  const n = document.createElementNS(NS, tag);
  for (const k in attrs) n.setAttribute(k, attrs[k]);
  if (text !== undefined) n.textContent = text;
  parent.appendChild(n);
  return n;
}
function linear(d0, d1, r0, r1){ return v => r0 + (v - d0) * (r1 - r0) / (d1 - d0); }
function logScale(d0, d1, r0, r1){ return v => r0 + (Math.log10(v) - Math.log10(d0)) * (r1 - r0) / (Math.log10(d1) - Math.log10(d0)); }
function pathFrom(xs, ys, sx, sy){
  let d = '';
  for (let i = 0; i < xs.length; i++) d += (i ? 'L' : 'M') + sx(xs[i]).toFixed(2) + ' ' + sy(ys[i]).toFixed(2);
  return d;
}
function flat(arr, stride, idx){
  const out = [];
  for (let i = idx; i < arr.length; i += stride) out.push(arr[i]);
  return out;
}
function envelope(seg, sx, sy){
  const ts = flat(seg,3,0), hi = flat(seg,3,1), lo = flat(seg,3,2);
  return ts.map((t,k)=>sx(t).toFixed(1)+','+sy(hi[k]).toFixed(1)).concat(ts.map((t,k)=>sx(t).toFixed(1)+','+sy(lo[k]).toFixed(1)).reverse()).join(' ');
}
function xTick(g, px, bottom, len, w, kind){
  const t = mk(g, 'line', {x1:px, x2:px, y1:bottom, y2:bottom+len, stroke:INK, 'stroke-width':w});
  
  
}
function yTick(g, py, left, len, w, kind){
  const t = mk(g, 'line', {x1:left-len, x2:left, y1:py, y2:py, stroke:INK, 'stroke-width':w});
  
  
}
function tickText(g, x, y, anchor, str, name){
  const t = mk(g, 'text', {x:x, y:y, 'text-anchor':anchor, class:'tick-label'}, str);
  
  
}
function frame(g, L, T, R, B){
  const f = mk(g, 'rect', {x:L, y:T, width:R-L, height:B-T, fill:'none', stroke:INK, 'stroke-width':2.2});
  
  
}

/* Panel a */
(function(){
  const g = document.getElementById('panel-a');
  const L=126.7, R=1122, T=9.5, B=167.5;
  const sx = linear(480, 505, 160.7, 1063);
  const sy = linear(0, 1, 75.3, 49.15);
  const plot = mk(g, 'g', {'clip-path':'url(#clip-a)'});
  
  
  transitEpochs.forEach(ep => {
    const outer = mk(plot, 'rect', {x:sx(ep-transitWidthDays/2), y:T, width:sx(transitWidthDays)-sx(0), height:B-T, fill:'#d5d2ea'});
    
    
    const inner = mk(plot, 'rect', {x:sx(ep-transitWidthDays*0.43), y:T, width:sx(transitWidthDays*0.86)-sx(0), height:B-T, fill:'#c0bce1'});
    
    
    const mid = mk(plot, 'line', {x1:sx(ep), x2:sx(ep), y1:T, y2:B, stroke:'#9c96cb', 'stroke-width':1.3});
    
    
  });
  [coreSeg1, coreSeg2, coreSeg3, coreSeg4, coreSeg5, coreSeg6].forEach((seg, i) => {
    const core = mk(plot, 'polygon', {points:envelope(seg, sx, sy), fill:i===2?'#232323':'#101010', stroke:i===2?'#232323':'#101010', 'stroke-width':1.5, 'stroke-linejoin':'round'});
    
    
  });
  [seg1Points, seg2Points, seg3Points, seg4Points, seg5Points, seg6Points].forEach((seg, s) => {
    for (let i = 0; i < seg.length; i += 2){
      const c = mk(plot, 'circle', {cx:sx(seg[i]).toFixed(1), cy:sy(seg[i+1]).toFixed(1), r:1.75, fill:s===2?'#999':'#b4b4b4', stroke:'#000', 'stroke-width':1});
      
      
    }
  });
  for (let i = 0; i < coreSpecks.length; i += 2){
    const c = mk(plot, 'circle', {cx:sx(coreSpecks[i]).toFixed(1), cy:sy(coreSpecks[i+1]).toFixed(1), r:.95, fill:'#6a6a6a'});
    
    
  }
  lightCurveXTicks.forEach(v => { xTick(g, sx(v), B, 9, 2, 'major'); tickText(g, sx(v), 204, 'middle', String(v), 'x-tick-label'); });
  for (let v = 480; v <= 506; v++) if (v % 5) xTick(g, sx(v), B, 6, 1.5, 'minor');
  lightCurveYTicks.forEach(v => { yTick(g, sy(v), L, 10, 2, 'major'); tickText(g, 108.5, sy(v)+8, 'end', String(v), 'y-tick-label'); });
  for (let k = -17; k <= 12; k++) if (k % 5) yTick(g, sy(k/5), L, 5, 1.5, 'minor');
  frame(g, L, T, R, B);
})();

/* Panel b */
(function(){
  const g = document.getElementById('panel-b');
  const L=126.7, R=1121.5, T=270, B=508.3;
  const sx = linear(-6, 6, L, R);
  const sy = linear(1, -2, T, B);
  const plot = mk(g, 'g', {'clip-path':'url(#clip-b)'});
  
  
  const win = mk(plot, 'rect', {x:sx(transitWindowHours[0]), y:T+1.5, width:sx(transitWindowHours[1])-sx(transitWindowHours[0]), height:B-T-3.8, fill:'#dfddec'});
  
  
  [foldPoints, foldPointsExtra].forEach(list => {
    for (let i = 0; i < list.length; i += 2){
      const c = mk(plot, 'circle', {cx:sx(list[i]).toFixed(1), cy:sy(list[i+1]).toFixed(1), r:1.95, fill:'none', stroke:'#666', 'stroke-opacity':.68, 'stroke-width':1});
      
      
    }
  });
  const dotted = mk(plot, 'path', {d:pathFrom(modelDottedT, modelDottedV, sx, sy), fill:'none', stroke:'#000', 'stroke-width':1.9, 'stroke-dasharray':'1.6 2'});
  
  
  const dashed = mk(plot, 'path', {d:pathFrom(modelDashedT, modelDashedV, sx, sy), fill:'none', stroke:'#000', 'stroke-width':2, 'stroke-dasharray':'7 2.4'});
  
  
  const solid = mk(plot, 'path', {d:pathFrom(modelSolidT, modelSolidV, sx, sy), fill:'none', stroke:'#000', 'stroke-width':2.2});
  
  
  binnedFlux.forEach((v, i) => {
    const t = binStartHours + (i + .5) * binWidthHours;
    const bar = mk(plot, 'line', {x1:sx(t), x2:sx(t), y1:sy(v+binErrorPpt).toFixed(1), y2:sy(v-binErrorPpt).toFixed(1), stroke:'#000', 'stroke-width':1.7});
    
    
    const dot = mk(plot, 'circle', {cx:sx(t), cy:sy(v).toFixed(1), r:2.3, fill:'#000'});
    
    
  });
  modelLabels.forEach((s, i) => {
    const t = mk(plot, 'text', {x:sx(0), y:sy(modelLabelValues[i])+5, 'text-anchor':'middle', 'font-size':14.5, fill:'#111'}, s);
    
    
  });
  foldXTicks.forEach(v => { xTick(g, sx(v), B, 9, 2, 'major'); tickText(g, sx(v), 543.5, 'middle', String(v), 'x-tick-label'); });
  for (let k = -24; k <= 24; k++) if (k % 4) xTick(g, sx(k/4), B, 6, 1.5, 'minor');
  foldYTicks.forEach(v => { yTick(g, sy(v), L, 9, 2, 'major'); tickText(g, 107, sy(v)+8, 'end', String(v), 'y-tick-label'); });
  for (let k = -10; k <= 5; k++) if (k % 5) yTick(g, sy(k/5), L, 5, 1.5, 'minor');
  frame(g, L, T, R, B);
})();

/* Panels c and d */
function drawGlsp(id, clip, L, R, labelRight, series, core, levels, fapLabelX){
  const g = document.getElementById(id);
  const T=625, B=705.6;
  const sx = logScale(.1, 10, L, R);
  const sy = linear(0, 25, 705.3, 636.3);
  const plot = mk(g, 'g', {'clip-path':'url(#'+clip+')'});
  
  
  const fills = ['#f8f1da','#efdfa5','#e4c869'];
  levels.forEach((lv, i) => {
    const top = i < levels.length-1 ? sy(levels[i+1]) : T;
    const b = mk(plot, 'rect', {x:L, y:top, width:R-L, height:sy(lv)-top, fill:fills[i]});
    
    
  });
  levels.forEach(lv => {
    const l = mk(plot, 'line', {x1:L, x2:R, y1:sy(lv), y2:sy(lv), stroke:'#8e8a72', 'stroke-width':1.5});
    
    
  });
  const base = mk(plot, 'line', {x1:L, x2:R, y1:sy(0), y2:sy(0), stroke:'#000', 'stroke-width':1.5});
  
  
  const mass = mk(plot, 'polygon', {points:envelope(core, sx, sy), fill:'#000'});
  
  
  const line = mk(plot, 'path', {d:pathFrom(flat(series,2,0), flat(series,2,1), sx, sy), fill:'none', stroke:'#000', 'stroke-width':2.7, 'stroke-linejoin':'round'});
  
  
  periodTicks.forEach(v => xTick(g, sx(v), B, 9, 2, 'major'));
  periodMinorTicks.forEach(v => xTick(g, sx(v), B, 5.5, 1.5, 'minor'));
  glspTicks.forEach((v, i) => { yTick(g, sy(v), L, 10, 2, 'major'); tickText(g, labelRight, sy(v)+8, 'end', glspTickLabels[i], 'y-tick-label'); });
  glspMinorTicks.forEach(v => yTick(g, sy(v), L, 5, 1.5, 'minor'));
  const rt = mk(g, 'line', {x1:R, x2:R+9, y1:sy(levels[0]), y2:sy(levels[0]), stroke:INK, 'stroke-width':2});
  
  
  tickText(g, fapLabelX, sy(levels[0])+9, 'start', fapTickLabel, 'fap-tick-label');
  frame(g, L, T, R, B);
}
drawGlsp('panel-c', 'clip-c', 126.7, 509.4, 108, glspC, glspCoreC, fapLevelsC, 530);
drawGlsp('panel-d', 'clip-d', 738.5, 1122, 719.4, glspD, glspCoreD, fapLevelsD, 1141.5);

/* Panels e and f */
function drawBls(id, clip, L, R, labelRight, values, core, sy, ticks, minor){
  const g = document.getElementById(id);
  const T=742.7, B=821.7;
  const sx = logScale(.1, 10, L, R);
  const plot = mk(g, 'g', {'clip-path':'url(#'+clip+')'});
  
  
  const mass = mk(plot, 'polygon', {points:envelope(core, sx, sy), fill:'#000', stroke:'#000', 'stroke-width':1.5});
  
  
  const line = mk(plot, 'path', {d:pathFrom(blsPeriods, values, sx, sy), fill:'none', stroke:'#000', 'stroke-width':2.2, 'stroke-linejoin':'round'});
  
  
  periodTicks.forEach((v, i) => { xTick(g, sx(v), B, 9, 2, 'major'); tickText(g, sx(v), 857, 'middle', periodTickLabels[i], 'x-tick-label'); });
  periodMinorTicks.forEach(v => xTick(g, sx(v), B, 5.5, 1.5, 'minor'));
  ticks.forEach(v => { yTick(g, sy(v), L, 10, 2, 'major'); tickText(g, labelRight, sy(v)+8, 'end', String(v), 'y-tick-label'); });
  minor.forEach(v => yTick(g, sy(v), L, 5, 1.5, 'minor'));
  frame(g, L, T, R, B);
}
drawBls('panel-e', 'clip-e', 126.7, 509.4, 108, blsPowerE, blsCoreE, linear(0, 250, 820.2, 745.3), blsTicksE, blsMinorE);
drawBls('panel-f', 'clip-f', 738.5, 1122, 719.4, blsPowerF, blsCoreF, linear(0, 100, 820.7, 757.7), blsTicksF, blsMinorF);
</script>
</body>
</html>
